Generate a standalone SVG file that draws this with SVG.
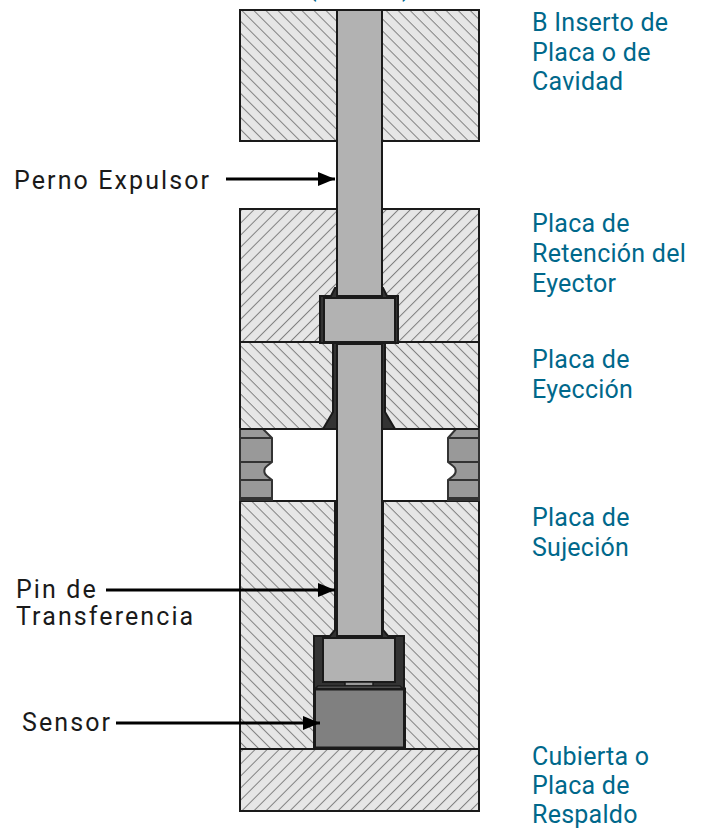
<svg xmlns="http://www.w3.org/2000/svg" width="702" height="828" viewBox="0 0 702 828">
<style>
.plate{stroke:#1a1a1a;stroke-width:2}
.a{fill:url(#hb)}.b{fill:url(#hf)}
.pin{fill:#b2b2b2;stroke:#1a1a1a;stroke-width:2}
.dk{fill:#333;stroke:#1a1a1a;stroke-width:2}
.ring{fill:#999;stroke:#333;stroke-width:2}
.lbl{font-family:"Roboto","Open Sans",sans-serif;font-size:25px;letter-spacing:.25px;fill:#00688b}
.blk{font-family:"Roboto","Open Sans",sans-serif;font-size:25px;fill:#1a1a1a;letter-spacing:2.1px}
.ln{stroke:#000;stroke-width:3;fill:none}
</style>
<defs>
<pattern id="hb" width="8.5" height="8.5" patternUnits="userSpaceOnUse" patternTransform="translate(242 10) rotate(45)">
<rect width="8.5" height="8.5" fill="#e6e6e6"/><rect width="8.5" height="1" fill="#808080"/></pattern>
<pattern id="hf" width="8.5" height="8.5" patternUnits="userSpaceOnUse" patternTransform="translate(242 209) rotate(-45)">
<rect width="8.5" height="8.5" fill="#e6e6e6"/><rect width="8.5" height="1" fill="#808080"/></pattern>
<marker id="ah" markerUnits="userSpaceOnUse" markerWidth="18" markerHeight="14" refX="17" refY="7" orient="auto"><path d="M0 0L17 7L0 14Z" fill="#000"/></marker>
</defs>
<g id="placa-b"><rect class="plate a" x="240" y="10" width="239" height="131"/></g>
<g id="placa-retencion"><rect class="plate b" x="240" y="209" width="239" height="133"/></g>
<g id="placa-eyeccion"><rect class="plate a" x="240" y="342" width="239" height="87"/></g>
<g id="placa-sujecion"><rect class="plate a" x="240" y="501" width="239" height="248"/></g>
<g id="placa-respaldo"><rect class="plate b" x="240" y="749" width="239" height="62"/></g>
<g id="anillos">
<path class="ring" d="M240 429H263L272 438V462L267 466A6 6 0 0 0 267 476L272 480V500H240Z"/>
<path class="ring" d="M479 429H456L448 438V462L453 466A6 6 0 0 1 453 476L448 480V500H479Z"/>
<path d="M240 438H272M240 462H272M240 480H272M240 498H272M448 438H479M448 462H479M448 480H479M448 498H479" stroke="#333" stroke-width="2" fill="none"/>
<path d="M240 429H479" stroke="#1a1a1a" stroke-width="2"/>
</g>
<g id="perno-expulsor">
<path class="dk" d="M335 288L331 296H320V343H398V296H387L383 288Z"/>
<path class="dk" d="M333 343V412L323 429H395L385 412V343Z"/>
<rect class="pin" x="337" y="10" width="45" height="286"/>
<rect class="pin" x="324" y="298" width="71" height="44"/>
</g>
<g id="pin-transferencia">
<path class="dk" d="M335 501V630L330 636H314V749H404V636H388L383 630V501Z"/>
<rect class="pin" x="337" y="344" width="45" height="292"/>
<rect class="pin" x="323" y="638" width="72" height="44"/>
</g>
<g id="sensor">
<rect x="345" y="682" width="28" height="4" fill="#999" stroke="#1a1a1a" stroke-width="1.5"/>
<path d="M315 689L318 686H400L403 689Z" fill="#808080" stroke="#1a1a1a" stroke-width="1.5"/>
<rect x="314.500" y="689" width="90" height="59" fill="#808080" stroke="#1a1a1a" stroke-width="3"/>
</g>
<g id="conectores">
<path class="ln" d="M226 179H335" marker-end="url(#ah)"/>
<path class="ln" d="M106 590H335" marker-end="url(#ah)"/>
<path class="ln" d="M116 723H320" marker-end="url(#ah)"/>
</g>
<g id="etiquetas">
<text class="lbl" x="308" y="-4">(</text><text class="lbl" x="402" y="-4">)</text>
<text class="lbl" x="532" y="31">B Inserto de</text><text class="lbl" x="532" y="61">Placa o de</text><text class="lbl" x="532" y="90">Cavidad</text>
<text class="lbl" x="532" y="232">Placa de</text><text class="lbl" x="532" y="262">Retención del</text><text class="lbl" x="532" y="292">Eyector</text>
<text class="lbl" x="532" y="368">Placa de</text><text class="lbl" x="532" y="398">Eyección</text>
<text class="lbl" x="532" y="526">Placa de</text><text class="lbl" x="532" y="556">Sujeción</text>
<text class="lbl" x="532" y="765">Cubierta o</text><text class="lbl" x="532" y="794">Placa de</text><text class="lbl" x="532" y="823">Respaldo</text>
<text class="blk" x="14" y="189">Perno Expulsor</text>
<text class="blk" x="16" y="598">Pin de</text><text class="blk" x="16" y="625">Transferencia</text>
<text class="blk" x="22" y="731">Sensor</text>
</g>
</svg>
